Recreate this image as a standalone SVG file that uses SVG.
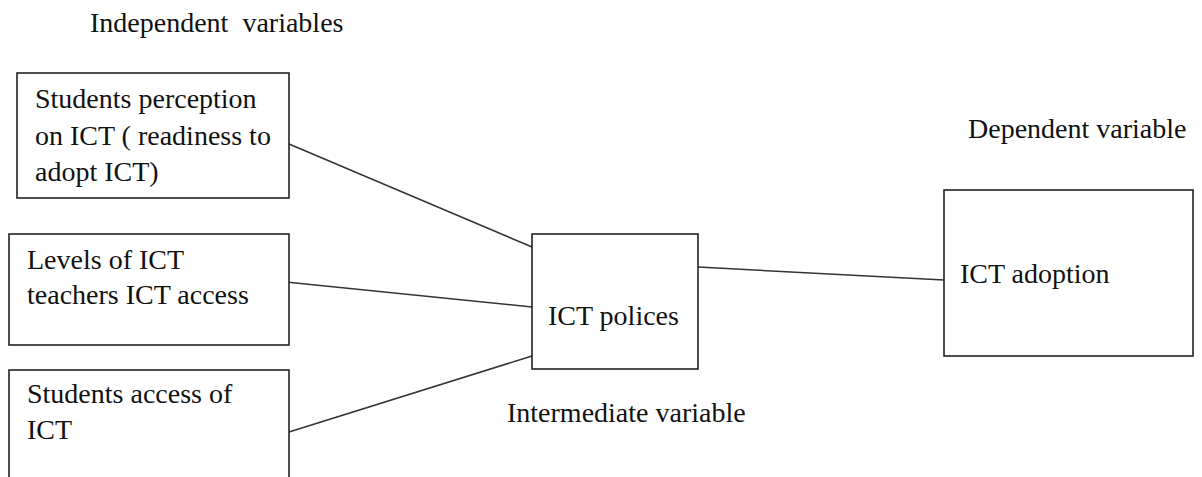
<svg xmlns="http://www.w3.org/2000/svg" width="1202" height="477" viewBox="0 0 1202 477">
<style>
.box{fill:#fff;stroke:#222;stroke-width:1.6}
.t{font-family:"Liberation Serif",Tinos,"DejaVu Serif",serif;font-size:28px;fill:#111}
.c{stroke:#333;stroke-width:1.5;fill:none}
</style>
<rect width="1202" height="477" fill="#fff"/>
<text class="t" x="90" y="32" xml:space="preserve">Independent  variables</text>
<text class="t" x="968" y="138">Dependent variable</text>
<text class="t" x="507" y="422">Intermediate variable</text>
<g id="connectors">
<line class="c" x1="289" y1="144" x2="532" y2="247"/>
<line class="c" x1="276" y1="281" x2="532" y2="307"/>
<line class="c" x1="289" y1="432" x2="532" y2="356"/>
<line class="c" x1="698" y1="267" x2="944" y2="280"/>
</g>
<g id="node-perception">
<rect class="box" x="17" y="73" width="272" height="125"/>
<text class="t" x="35" y="108">Students perception</text>
<text class="t" x="35" y="145">on ICT ( readiness to</text>
<text class="t" x="35" y="181">adopt ICT)</text>
</g>
<g id="node-levels">
<rect class="box" x="9" y="234" width="280" height="111"/>
<text class="t" x="27" y="269">Levels of ICT</text>
<text class="t" x="27" y="304">teachers ICT access</text>
</g>
<g id="node-access">
<rect class="box" x="9" y="370" width="280" height="120"/>
<text class="t" x="27" y="403">Students access of</text>
<text class="t" x="27" y="439">ICT</text>
</g>
<g id="node-policies">
<rect class="box" x="532" y="234" width="166" height="135"/>
<text class="t" x="548" y="325">ICT polices</text>
</g>
<g id="node-adoption">
<rect class="box" x="944" y="190" width="249" height="166"/>
<text class="t" x="960" y="283">ICT adoption</text>
</g>
</svg>
